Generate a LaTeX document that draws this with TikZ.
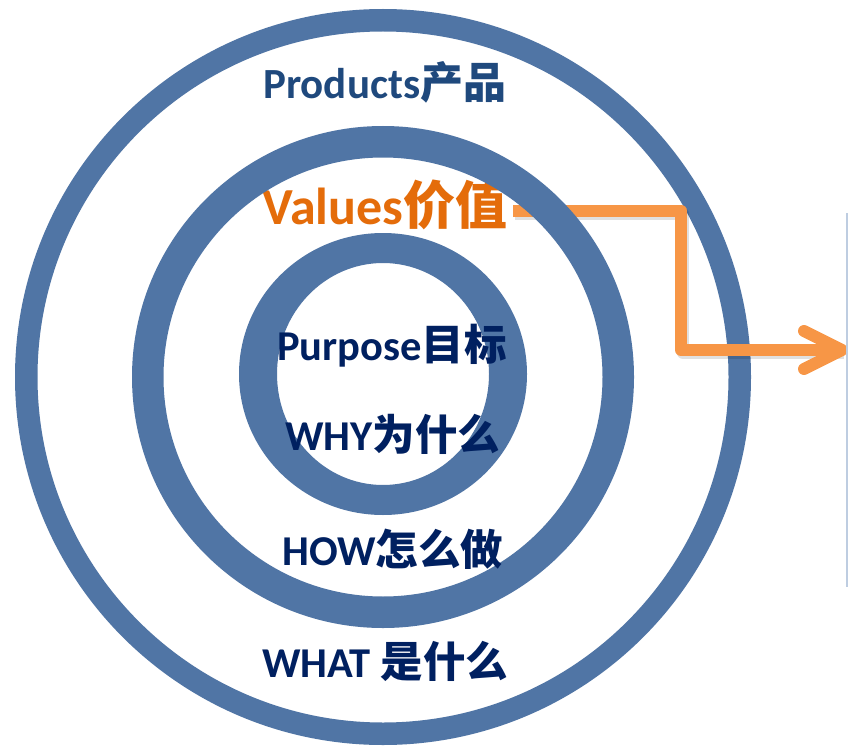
\documentclass[tikz,border=0pt]{standalone}
\usepackage{fontspec}
\setmainfont{Carlito}
\newfontfamily\cjk{Noto Sans CJK SC}
\definecolor{ringblue}{RGB}{80,117,165}
\definecolor{navytext}{RGB}{0,32,96}
\definecolor{prodtext}{RGB}{31,73,125}
\definecolor{valtext}{RGB}{228,108,10}
\definecolor{arrorange}{RGB}{247,150,70}
\definecolor{edgeline}{RGB}{190,205,225}
\begin{document}
\begin{tikzpicture}[x=1pt,y=-1pt,
  ring/.style={fill=ringblue, even odd rule},
  lbl/.style={anchor=base west, inner sep=0pt, font=\bfseries\fontsize{42.5}{50}\selectfont, text=navytext},
  vallbl/.style={anchor=base west, inner sep=0pt, font=\bfseries\fontsize{52}{60}\selectfont, text=valtext},
  orangeline/.style={draw=arrorange, line width=12pt, line join=round, line cap=round},
  shadowline/.style={draw=black, opacity=0.12, line width=12pt, line join=round}]
\useasboundingbox (0,0) rectangle (848,746);
\fill[white] (0,0) rectangle (848,746);
% outer ring
\fill[ring] (383,377) circle[radius=368pt] (383,377) circle[radius=345.5pt];
% labels
\node[lbl, text=prodtext, font=\bfseries\fontsize{43}{50}\selectfont] (prod) at (263,99) {Products{\cjk 产品}};
\node[vallbl] (val) at (262,224) {Values{\cjk 价值}};
% arrow
\coordinate (s) at (513,210.5);
\coordinate (c1) at (681,210.5);
\coordinate (c2) at (681,350);
\coordinate (tip) at (842,350);
\coordinate (b1) at (804,331);
\coordinate (b2) at (804,369);
\draw[shadowline] ([shift={(2,3)}]s) -- ([shift={(2,3)}]c1) -- ([shift={(2,3)}]c2) -- ([shift={(2,3)}]tip);
\draw[orangeline, line cap=butt] (s) -- (c1) -- (c2) -- (tip);
\draw[orangeline] (b1) -- (tip) -- (b2);
% middle ring
\fill[ring] (383,377) circle[radius=251pt] (383,377) circle[radius=219.5pt];
% inner ring
\fill[ring] (383,374) ellipse[x radius=144pt, y radius=141pt] (383,374) ellipse[x radius=106pt, y radius=111pt];
% right edge line
\coordinate (e1) at (847,213);
\coordinate (e2) at (847,587);
\draw[edgeline, line width=1.5pt] (e1) -- (e2);
% inner labels
\node[lbl] (purp) at (277,360) {Purpose{\cjk 目标}};
\node[lbl] (why) at (285,450) {WHY{\cjk 为什么}};
\node[lbl] (how) at (282,565) {HOW{\cjk 怎么做}};
\node[lbl] (what) at (262,677) {WHAT {\cjk 是什么}};
\end{tikzpicture}
\end{document}
